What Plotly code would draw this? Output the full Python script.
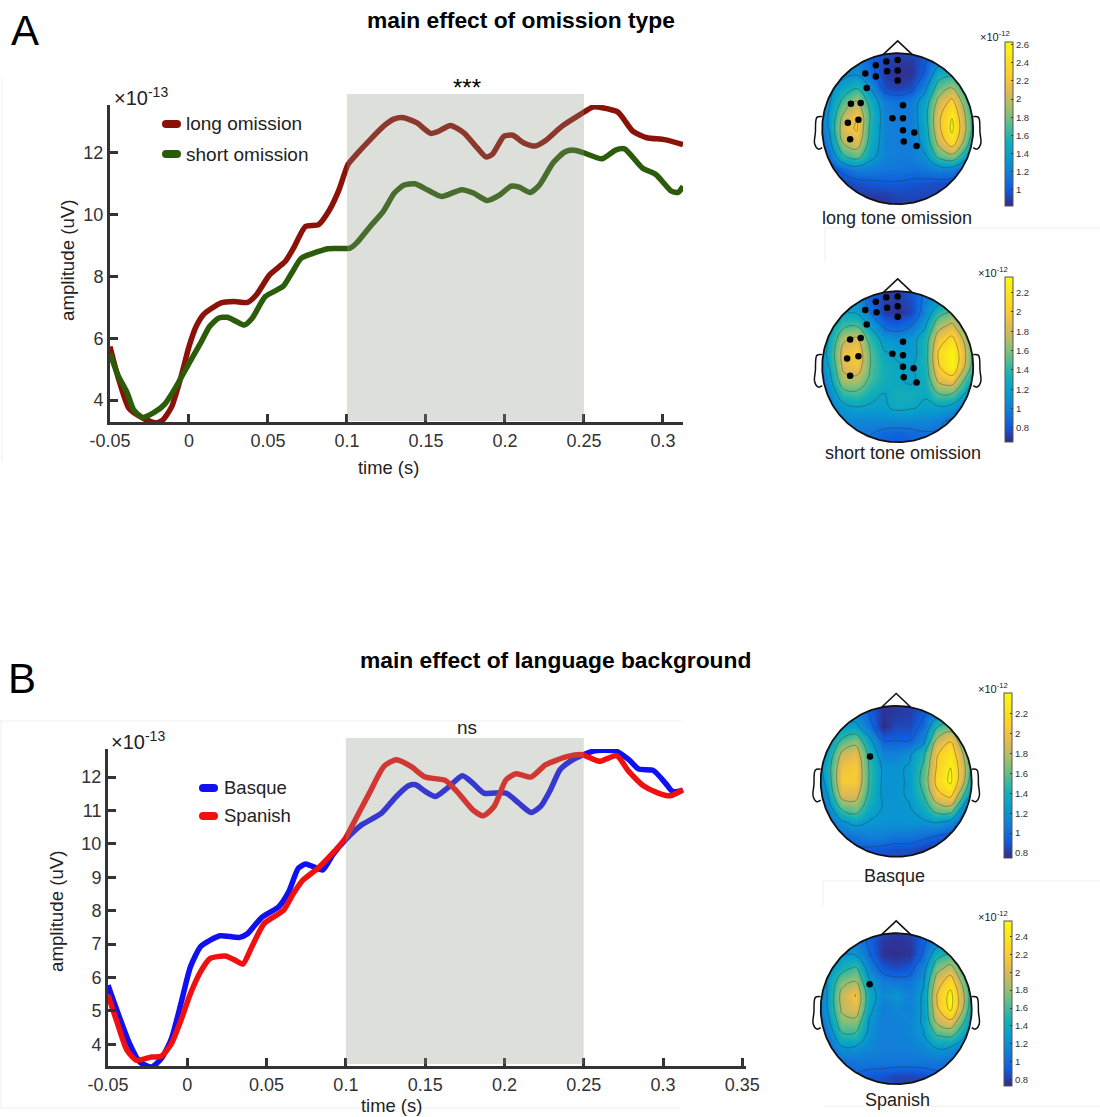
import numpy as np
import plotly.graph_objects as go

W, H = 1100, 1117

# ---------- Panel A curves ----------
t_long = [-0.05,-0.045,-0.038,-0.029,-0.021,-0.0167,-0.011,-0.005,0,0.0045,0.009,0.0144,0.02,0.0285,0.037,0.0427,0.051,0.061,0.0667,0.0737,0.082,0.089,0.095,0.1006,0.106,0.1147,0.123,0.13,0.1359,0.1443,0.153,0.158,0.1655,0.174,0.1825,0.188,0.192,0.1994,0.205,0.212,0.219,0.226,0.236,0.2475,0.256,0.2616,0.2715,0.281,0.2898,0.301,0.3127]
v_long = [5.73,4.76,3.73,3.41,3.26,3.35,3.78,4.76,5.73,6.38,6.76,6.97,7.14,7.19,7.16,7.41,8.05,8.49,8.97,9.62,9.68,10.16,10.81,11.62,11.95,12.43,12.86,13.1,13.14,12.97,12.63,12.7,12.89,12.65,12.16,11.87,11.95,12.54,12.57,12.32,12.22,12.41,12.86,13.24,13.49,13.46,13.32,12.7,12.49,12.43,12.27]
t_short = [-0.05,-0.045,-0.039,-0.035,-0.0294,-0.0223,-0.0153,-0.0082,0,0.0073,0.013,0.0186,0.0243,0.03,0.035,0.04,0.0483,0.0596,0.065,0.071,0.078,0.088,0.102,0.106,0.1147,0.123,0.13,0.1359,0.143,0.1514,0.16,0.1726,0.18,0.1887,0.197,0.2037,0.209,0.216,0.222,0.2305,0.2376,0.243,0.25,0.2616,0.27,0.2757,0.287,0.2955,0.3054,0.3096,0.3127]
v_short = [5.51,4.81,4.22,3.68,3.44,3.59,3.87,4.43,5.19,5.84,6.38,6.65,6.68,6.54,6.43,6.65,7.35,7.68,8.11,8.59,8.74,8.9,8.92,9.08,9.62,10.11,10.7,10.95,11.0,10.79,10.59,10.81,10.7,10.46,10.65,10.92,10.89,10.72,10.97,11.68,12.02,12.09,12.0,11.81,12.09,12.13,11.51,11.3,10.76,10.72,10.92]

# ---------- Panel B curves ----------
t_basque = [-0.05,-0.044,-0.0364,-0.03,-0.0225,-0.0164,-0.01,-0.004,0.002,0.0083,0.0145,0.0207,0.033,0.0377,0.047,0.0577,0.064,0.07,0.0747,0.0793,0.0855,0.0917,0.0997,0.11,0.1225,0.1318,0.1395,0.144,0.15,0.1565,0.164,0.1735,0.18,0.187,0.201,0.209,0.2167,0.2228,0.229,0.235,0.2414,0.249,0.2568,0.2707,0.2784,0.2846,0.2938,0.3015,0.306,0.3125]
v_basque = [5.77,4.97,4.02,3.47,3.32,3.57,4.17,5.22,6.32,6.92,7.12,7.25,7.2,7.3,7.8,8.12,8.57,9.27,9.4,9.32,9.22,9.67,10.12,10.57,10.92,11.42,11.74,11.77,11.57,11.42,11.67,12.04,11.82,11.52,11.52,11.22,10.94,11.12,11.62,12.22,12.47,12.65,12.79,12.77,12.52,12.24,12.2,11.82,11.57,11.6]
t_spanish = [-0.05,-0.044,-0.038,-0.0318,-0.0225,-0.0164,-0.01,-0.004,0.002,0.0083,0.0145,0.0238,0.03,0.035,0.0407,0.0485,0.0608,0.067,0.073,0.0824,0.0917,0.0997,0.107,0.1148,0.124,0.1318,0.141,0.15,0.1627,0.17,0.18,0.1867,0.1935,0.201,0.2074,0.2167,0.226,0.24,0.249,0.26,0.2707,0.2784,0.2876,0.297,0.3046,0.3125]
v_spanish = [5.47,4.62,3.82,3.52,3.62,3.64,4.02,4.72,5.52,6.17,6.57,6.64,6.52,6.4,6.92,7.62,8.02,8.52,8.92,9.27,9.72,10.17,10.82,11.52,12.32,12.52,12.32,12.0,11.9,11.57,11.02,10.84,11.12,11.92,12.1,12.0,12.37,12.62,12.67,12.47,12.64,12.17,11.74,11.52,11.44,11.62]

x_ticks = [-0.05,0,0.05,0.1,0.15,0.2,0.25,0.3]
x_ticks_b = x_ticks + [0.35]
x_labels = ["-0.05","0","0.05","0.1","0.15","0.2","0.25","0.3"]
x_labels_b = x_labels + ["0.35"]
y_ticks_a = [4,6,8,10,12]
y_ticks_b = [4,5,6,7,8,9,10,11,12]
window = [0.1, 0.25]

# ---------- Topographies (1e-12), rows top to bottom ----------
grid = [-1.08,-0.9,-0.72,-0.54,-0.36,-0.18,0,0.18,0.36,0.54,0.72,0.9,1.08]
z_long = [
[1.2,1.2,1.2,1.15,1.05,0.98,0.95,0.95,1.0,1.1,1.15,1.15,1.15],
[1.2,1.2,1.2,1.2,1.05,0.92,0.88,0.88,1.0,1.2,1.25,1.2,1.15],
[1.2,1.22,1.25,1.3,1.1,0.88,0.84,0.85,1.05,1.5,1.55,1.35,1.15],
[1.2,1.25,1.45,1.6,1.3,0.95,0.9,0.95,1.25,1.75,1.95,1.55,1.2],
[1.15,1.3,1.7,1.95,1.5,1.18,1.12,1.18,1.45,2.0,2.3,1.75,1.25],
[1.1,1.35,1.95,2.2,1.6,1.22,1.18,1.18,1.5,2.15,2.5,1.9,1.25],
[1.05,1.35,2.1,2.25,1.55,1.22,1.18,1.18,1.45,2.15,2.58,1.95,1.2],
[1.0,1.25,1.95,2.1,1.5,1.22,1.18,1.18,1.4,2.0,2.4,1.8,1.05],
[0.95,1.1,1.6,1.75,1.4,1.22,1.18,1.18,1.3,1.7,1.85,1.45,0.95],
[0.88,0.92,1.08,1.2,1.18,1.15,1.15,1.12,1.15,1.2,1.2,1.0,0.86],
[0.88,0.88,0.9,0.95,0.98,1.0,1.0,0.98,0.96,0.95,0.92,0.88,0.86],
[0.88,0.86,0.86,0.88,0.88,0.88,0.92,0.92,0.92,0.92,0.9,0.88,0.86],
[0.88,0.86,0.86,0.86,0.85,0.85,0.88,0.88,0.9,0.9,0.9,0.88,0.86]]
z_short = [
[1.1,1.1,1.1,1.05,0.85,0.75,0.75,0.8,0.9,1.05,1.1,1.1,1.1],
[1.1,1.1,1.15,1.1,0.85,0.72,0.72,0.78,1.0,1.1,1.2,1.15,1.1],
[1.1,1.15,1.25,1.2,0.95,0.72,0.68,0.75,1.05,1.4,1.55,1.3,1.1],
[1.1,1.2,1.45,1.5,1.2,0.9,0.85,0.95,1.2,1.7,1.85,1.5,1.15],
[1.05,1.25,1.75,1.85,1.4,1.15,1.1,1.15,1.35,1.95,2.15,1.7,1.15],
[1.0,1.3,1.9,2.0,1.5,1.25,1.2,1.15,1.35,2.1,2.33,1.8,1.15],
[0.95,1.25,1.85,1.95,1.5,1.3,1.25,1.2,1.35,2.05,2.3,1.75,1.1],
[0.9,1.15,1.7,1.7,1.45,1.3,1.25,1.2,1.3,1.85,1.95,1.45,1.0],
[0.9,1.05,1.4,1.45,1.3,1.22,1.32,1.3,1.25,1.5,1.5,1.2,0.9],
[0.9,1.0,1.15,1.22,1.2,1.2,1.28,1.25,1.2,1.2,1.15,0.95,0.82],
[0.9,0.95,1.05,1.05,1.05,1.05,1.05,1.05,1.05,1.0,0.9,0.82,0.8],
[0.9,0.92,0.98,1.0,0.95,0.88,0.85,0.88,0.92,0.92,0.88,0.85,0.85],
[0.9,0.95,0.98,0.95,0.9,0.85,0.82,0.85,0.9,0.92,0.9,0.88,0.85]]
z_basque = [
[1.1,1.1,1.1,1.05,0.9,0.78,0.8,0.82,0.85,1.0,1.1,1.1,1.1],
[1.1,1.1,1.1,1.1,0.95,0.78,0.8,0.82,0.92,1.1,1.2,1.15,1.1],
[1.05,1.1,1.25,1.3,1.05,0.76,0.85,0.85,1.0,1.5,1.65,1.3,1.1],
[1.05,1.2,1.55,1.7,1.3,0.95,0.95,0.95,1.15,1.85,2.05,1.55,1.1],
[1.05,1.3,1.85,1.95,1.45,1.1,1.1,1.2,1.45,2.05,2.25,1.75,1.1],
[1.0,1.4,2.0,2.05,1.5,1.2,1.2,1.25,1.55,2.1,2.35,1.85,1.1],
[0.95,1.35,2.05,2.05,1.5,1.2,1.2,1.25,1.6,2.15,2.4,1.8,0.95],
[0.9,1.25,1.9,1.9,1.45,1.2,1.2,1.25,1.5,2.0,2.15,1.5,0.85],
[0.9,1.1,1.55,1.65,1.35,1.22,1.2,1.22,1.35,1.65,1.7,1.1,0.8],
[0.88,0.98,1.2,1.3,1.22,1.2,1.2,1.2,1.2,1.25,1.15,0.9,0.78],
[0.85,0.9,1.0,1.05,1.1,1.1,1.05,1.05,1.0,0.95,0.88,0.82,0.78],
[0.85,0.85,0.9,0.92,0.92,0.9,0.88,0.88,0.82,0.8,0.82,0.8,0.78],
[0.85,0.85,0.88,0.88,0.85,0.85,0.85,0.82,0.78,0.78,0.8,0.78,0.78]]
z_spanish = [
[1.05,1.05,1.05,1.05,1.0,0.85,0.8,0.85,0.95,1.05,1.1,1.1,1.05],
[1.05,1.05,1.1,1.1,0.95,0.78,0.76,0.78,0.95,1.1,1.15,1.1,1.05],
[1.05,1.1,1.25,1.25,1.0,0.76,0.74,0.76,1.0,1.45,1.55,1.25,1.05],
[1.0,1.2,1.45,1.6,1.15,0.9,0.85,0.9,1.15,1.75,1.95,1.5,1.05],
[1.0,1.3,1.75,1.85,1.3,1.1,1.05,1.05,1.25,2.0,2.3,1.7,1.05],
[0.95,1.3,1.95,2.15,1.4,1.15,1.25,1.12,1.3,2.15,2.52,1.85,1.05],
[0.9,1.3,1.9,2.05,1.35,1.1,1.15,1.12,1.3,2.1,2.5,1.8,1.0],
[0.85,1.2,1.75,1.75,1.25,1.1,1.12,1.15,1.3,1.9,2.05,1.55,0.95],
[0.85,1.05,1.5,1.5,1.2,1.1,1.1,1.15,1.25,1.55,1.6,1.3,0.9],
[0.85,0.95,1.2,1.2,1.15,1.1,1.1,1.1,1.15,1.25,1.2,1.05,0.88],
[0.85,0.9,1.0,1.05,1.05,1.05,1.05,1.05,1.05,1.05,1.0,0.95,0.85],
[0.85,0.85,0.92,0.95,0.9,0.88,0.82,0.82,0.85,0.92,0.95,0.9,0.85],
[0.85,0.85,0.9,0.9,0.88,0.85,0.82,0.8,0.82,0.88,0.9,0.9,0.85]]

# electrode dots, head units
dots_long_x = [-0.29,-0.15,0,-0.43,-0.29,-0.14,0,0,-0.41,-0.62,-0.49,-0.66,-0.52,-0.63,0.07,-0.07,0.07,0.07,0.22,0.08,0.25]
dots_long_y = [0.84,0.89,0.91,0.73,0.69,0.76,0.77,0.64,0.54,0.33,0.34,0.08,0.12,-0.14,0.31,0.14,0.14,-0.02,-0.05,-0.17,-0.23]
dots_short_x = [-0.29,-0.15,0,-0.43,-0.28,-0.14,0,0,-0.41,-0.63,-0.49,-0.67,-0.52,-0.63,0.07,-0.07,0.07,0.07,0.21,0.08,0.25]
dots_short_y = [0.86,0.92,0.93,0.75,0.72,0.78,0.8,0.66,0.56,0.36,0.38,0.11,0.14,-0.12,0.33,0.17,0.15,0.0,-0.02,-0.14,-0.21]
dots_basque_x = [-0.347]
dots_basque_y = [0.327]
dots_spanish_x = [-0.352]
dots_spanish_y = [0.323]

parula = [[0,"rgb(53,42,135)"],[.1,"rgb(15,92,221)"],[.2,"rgb(18,125,216)"],[.3,"rgb(7,156,207)"],
          [.4,"rgb(21,177,180)"],[.5,"rgb(89,189,140)"],[.6,"rgb(165,190,107)"],[.7,"rgb(225,185,82)"],
          [.8,"rgb(252,206,46)"],[.9,"rgb(250,228,30)"],[1,"rgb(249,251,14)"]]

topos = [
 dict(z=z_long,  cx=897.7, cy=128.7, zr=(0.82,2.63), ticks=[1,1.2,1.4,1.6,1.8,2,2.2,2.4,2.6], cb=(1005,42,206), dx=dots_long_x, dy=dots_long_y, lab="long tone omission", lx=897, ly=218, tx=995, ty=36, lev=(1.02,2.6,0.3)),
 dict(z=z_short, cx=897.7, cy=366.7, zr=(0.655,2.36), ticks=[.8,1,1.2,1.4,1.6,1.8,2,2.2], cb=(1005,277,442), dx=dots_short_x, dy=dots_short_y, lab="short tone omission", lx=903, ly=453, tx=993, ty=272, lev=(0.95,2.3,0.28)),
 dict(z=z_basque,cx=896.2, cy=781.3, zr=(0.75,2.41), ticks=[.8,1,1.2,1.4,1.6,1.8,2,2.2], cb=(1004,693,858), dx=dots_basque_x, dy=dots_basque_y, lab="Basque", lx=894, ly=876, tx=993, ty=688, lev=(0.95,2.35,0.28)),
 dict(z=z_spanish,cx=896.2,cy=1008.7,zr=(0.725,2.576),ticks=[.8,1,1.2,1.4,1.6,1.8,2,2.2,2.4], cb=(1004,921,1086), dx=dots_spanish_x, dy=dots_spanish_y, lab="Spanish", lx=897, ly=1100, tx=993, ty=916, lev=(0.98,2.5,0.29)),
]
R = 75.5

FONT = "Liberation Sans"
def px(x): return x / W
def py(y): return 1 - y / H

fig = go.Figure()
annotations, shapes = [], []

def text(s, x, y, size, color="#222", bold=False, angle=0, xanchor="center"):
    annotations.append(dict(text=f"<b>{s}</b>" if bold else s, x=px(x), y=py(y), xref="paper", yref="paper",
                            showarrow=False, xanchor=xanchor, yanchor="middle", textangle=angle,
                            font=dict(family=FONT, size=size, color=color)))

def main_axes(n, xpx, ypx, xr, yr, xt, xl, yt):
    axis = dict(showgrid=False, zeroline=False, showline=True, linecolor="#333", linewidth=3, ticks="inside",
                ticklen=8, tickwidth=3, tickcolor="#333", automargin=False,
                tickfont=dict(family=FONT, size=18, color="#333"))
    fig.update_layout(**{
        f"xaxis{n}": dict(axis, domain=[px(xpx[0]), px(xpx[1])], range=xr, tickvals=xt, ticktext=xl, anchor=f"y{n}"),
        f"yaxis{n}": dict(axis, domain=[py(ypx[1]), py(ypx[0])], range=yr, tickvals=yt, ticktext=[str(v) for v in yt], anchor=f"x{n}"),
    })

# panel A / B main axes
main_axes("", (110,683), (105,422), [-0.05,0.3127], [3.29,13.55], x_ticks, x_labels, y_ticks_a)
main_axes("2", (108,746), (749,1066), [-0.05,0.3523], [3.35,12.84], x_ticks_b, x_labels_b, y_ticks_b)

def curve(t, v, color, ax):
    fig.add_trace(go.Scatter(x=t, y=v, mode="lines", line=dict(color=color, width=5.5, shape="spline", smoothing=0.6),
                             xaxis=f"x{ax}", yaxis=f"y{ax}", showlegend=False, hoverinfo="skip"))

curve(t_long, v_long, "#8a1208", "")
curve(t_short, v_short, "#2a5c0a", "")
curve(t_basque, v_basque, "#1010f0", "2")
curve(t_spanish, v_spanish, "#f01010", "2")

for ax, ypx in (("x", 94), ("x2", 738)):
    ybot = 421 if ax == "x" else 1064
    shapes.append(dict(type="rect", xref=ax, yref="paper", x0=window[0], x1=window[1], y0=py(ybot), y1=py(ypx),
                       fillcolor="rgba(142,148,132,0.3)", line=dict(width=0), layer="above"))

# faint edges of the pasted panels
for x0, y0, x1, y1 in [(0,721,681,721),(1,721,1,1108),(1,1108,680,1108),(823,881,1100,881),(823,881,823,905),
                       (825,228,1100,228),(825,228,825,262),(823,1106,1100,1106),(2,78,2,462)]:
    shapes.append(dict(type="line", xref="paper", yref="paper", x0=px(x0), x1=px(x1), y0=py(y0), y1=py(y1),
                       line=dict(color="#eeeeee", width=1), layer="below"))

# legend swatches with rounded ends
for x0, x1, y, c in [(166,177,124,"#8a1208"),(166,177,154,"#2a5c0a"),(203,214,788,"#1010f0"),(203,214,816,"#f01010")]:
    shapes.append(dict(type="line", xref="paper", yref="paper", x0=px(x0), x1=px(x1), y0=py(y), y1=py(y),
                       line=dict(color=c, width=8)))
    for xc in (x0, x1):
        shapes.append(dict(type="circle", xref="paper", yref="paper", x0=px(xc-4), x1=px(xc+4), y0=py(y+4), y1=py(y-4),
                           fillcolor=c, line=dict(width=0)))

# topographies
theta = np.linspace(0, 2*np.pi, 241)
cx_unit, cy_unit = np.cos(theta), np.sin(theta)
ear_x = [1.0,1.07,1.09,1.10,1.05,1.0]
ear_y = [0.16,0.15,-0.05,-0.2,-0.27,-0.25]
half = 1.2
for i, tp in enumerate(topos):
    n = str(i + 3)
    fig.update_layout(**{
        f"xaxis{n}": dict(domain=[px(tp["cx"]-half*R), px(tp["cx"]+half*R)], range=[-half,half], visible=False, anchor=f"y{n}", automargin=False),
        f"yaxis{n}": dict(domain=[py(tp["cy"]+half*R), py(tp["cy"]-half*R)], range=[-half,half], visible=False, anchor=f"x{n}", automargin=False),
    })
    kw = dict(xaxis=f"x{n}", yaxis=f"y{n}", showlegend=False, hoverinfo="skip")
    z = tp["z"][::-1]
    y = grid
    x0, y0, y1 = tp["cb"]
    fig.add_trace(go.Heatmap(x=grid, y=y, z=z, zsmooth="best", colorscale=parula, zmin=tp["zr"][0], zmax=tp["zr"][1],
        colorbar=dict(x=px(x0), xanchor="left", xpad=0, thickness=7.5, thicknessmode="pixels",
                      lenmode="pixels", len=y1-y0, y=py((y0+y1)/2), yanchor="middle", ypad=0,
                      outlinecolor="#555", outlinewidth=1, ticks="inside", ticklen=2, tickcolor="#333",
                      tickvals=tp["ticks"], ticktext=[f"{v:g}" for v in tp["ticks"]],
                      tickfont=dict(family=FONT, size=9.5, color="#333")), **kw))
    fig.add_trace(go.Contour(x=grid, y=y, z=z, showscale=False, autocontour=False,
                             contours=dict(start=tp["lev"][0], end=tp["lev"][1], size=tp["lev"][2], coloring="none"),
                             line=dict(color="rgba(40,50,50,0.42)", width=0.9, smoothing=1.2), **kw))
    # white mask outside the head
    mx = [half, half, -half, -half, half, half] + list(cx_unit[::-1]) + [half]
    my = [0, half, half, -half, -half, 0] + list(cy_unit[::-1]) + [0]
    fig.add_trace(go.Scatter(x=mx, y=my, mode="lines", line=dict(width=0), fill="toself", fillcolor="white", **kw))
    # head, nose, ears
    fig.add_trace(go.Scatter(x=cx_unit, y=cy_unit, mode="lines", line=dict(color="#111", width=1.8), **kw))
    fig.add_trace(go.Scatter(x=[-0.19,0,0.19], y=[0.985,1.163,0.985], mode="lines", line=dict(color="#111", width=1.5), **kw))
    for sgn in (1, -1):
        fig.add_trace(go.Scatter(x=[sgn*a for a in ear_x], y=ear_y, mode="lines",
                                 line=dict(color="#111", width=1.5, shape="spline"), **kw))
    fig.add_trace(go.Scatter(x=tp["dx"], y=tp["dy"], mode="markers", marker=dict(color="black", size=6.5), **kw))
    text(tp["lab"], tp["lx"], tp["ly"], 18)
    text("×10<sup>-12</sup>", tp["tx"], tp["ty"], 11, xanchor="center")

# text
text("A", 25, 30, 42, color="black")
text("B", 22, 678, 42, color="black")
text("main effect of omission type", 521, 20, 22.8, color="black", bold=True)
text("main effect of language background", 555, 660, 22.8, color="black", bold=True)
text("***", 467, 87, 24, color="black")
text("ns", 467, 727, 19)
text("×10<sup>-13</sup>", 141, 96, 20)
text("×10<sup>-13</sup>", 138, 740, 20)
text("long omission", 184, 124, 19, xanchor="left")
text("short omission", 184, 154, 19, xanchor="left")
text("Basque", 222, 787, 18.5, xanchor="left")
text("Spanish", 222, 815, 18.5, xanchor="left")
text("amplitude (uV)", 68, 260, 18.7, angle=-90)
text("amplitude (uV)", 56, 911, 18.7, angle=-90)
text("time (s)", 388, 467, 18.4)
text("time (s)", 391, 1105, 18.4)

fig.update_layout(width=W, height=H, margin=dict(l=0, r=0, t=0, b=0, autoexpand=False), paper_bgcolor="white", plot_bgcolor="white",
                  showlegend=False, annotations=annotations, shapes=shapes)
fig.write_html("out.html", config={"displayModeBar": False},
               post_script="document.body.style.margin='0';document.body.style.overflow='hidden';")
